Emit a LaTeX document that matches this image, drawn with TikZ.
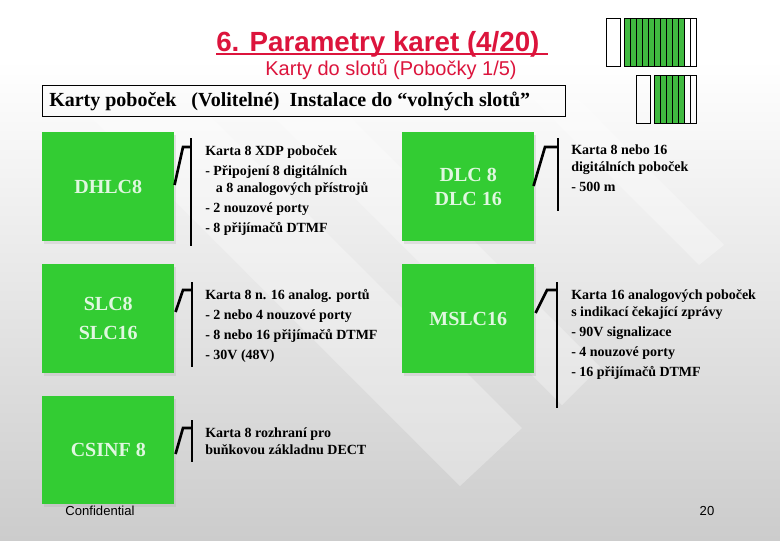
\documentclass[tikz,border=0pt]{standalone}
\usepackage{fontspec}
\setmainfont{Liberation Serif}
\setsansfont{Liberation Sans}
\usetikzlibrary{calc,shadows}
\tikzset{x=.75pt,y=-.75pt}
\definecolor{cardgreen}{RGB}{51,204,51}
\definecolor{slotgreen}{RGB}{64,186,64}
\definecolor{titlered}{RGB}{220,20,60}
\tikzset{
  card/.style={fill=cardgreen,text=white!85!cardgreen,minimum width=99pt,minimum height=81.75pt,
    inner sep=0pt,font=\fontsize{15}{21.5}\selectfont\bfseries,align=center,anchor=north west,
    drop shadow={shadow xshift=1.5pt,shadow yshift=-2pt,opacity=.25,fill=black!35}},
  info/.style={inner sep=0pt,anchor=north west,align=left,font=\fontsize{10.5}{15}\selectfont\bfseries},
  infotight/.style={info,font=\fontsize{10.5}{12.75}\selectfont\bfseries},
  band/.style={white,opacity=.3},
  bar/.style={line width=2pt},
  stub/.style={line width=2pt},
  slot/.style={draw=black,line width=.75pt}
}
\begin{document}
\begin{tikzpicture}
  \useasboundingbox (0,0) rectangle (780,540);
  % background
  \fill[white] (0,0) rectangle (780,60);
  \shade[top color=white,bottom color=black!20] (0,60) rectangle (780,540);
  \fill[band] (90,116) -- (460,486) -- (522,428) -- (210,116) -- cycle;
  \fill[band] (273,116) -- (562,405) -- (600,367) -- (349,116) -- cycle;
  \fill[band] (534,100) -- (699,265) -- (724,245) -- (579,100) -- cycle;
  % title
  \node[text=titlered,font=\sffamily\fontsize{20.8}{22}\selectfont\bfseries,inner sep=0pt,anchor=base west] (title) at (216,51) {6. Parametry karet (4/20)};
  \coordinate (titleend) at (548,54);
  \draw[titlered,line width=1.5pt] (title.base west |- titleend) -- (titleend);
  \node[text=titlered,font=\sffamily\fontsize{15}{16}\selectfont,inner sep=0pt] (subtitle) at (391,70) {Karty do slotů (Pobočky 1/5)};
  \node[draw=black,line width=.8pt,minimum width=392pt,minimum height=23.25pt,inner sep=0pt,anchor=north west] (head) at (42,85) {};
  \node[font=\fontsize{15}{16}\selectfont\bfseries,inner sep=0pt,anchor=west] (headtext) at (49,101) {Karty poboček\ \ \ (Volitelné)\ \ Instalace do “volných slotů”};
  % cards
  \node[card] (dhlc) at (42,132) {DHLC8};
  \node[card] (slc) at (42,264) {SLC8\\SLC16};
  \node[card,minimum height=81pt] (csinf) at (42,396) {CSINF 8};
  \node[card,font=\fontsize{15}{18}\selectfont\bfseries] (dlc) at (402,132) {DLC 8\\DLC 16};
  \node[card] (mslc) at (402,264) {MSLC16};
  % descriptions
  \node[info] (dhlctext) at (205,145) {Karta 8 XDP poboček\\- Připojení 8 digitálních\\[-2.2pt]\ \ \ a 8 analogových přístrojů\\- 2 nouzové porty\\- 8 přijímačů DTMF};
  \node[info] (slctext) at (205,289) {Karta 8 n. 16 analog. portů\\- 2 nebo 4 nouzové porty\\- 8 nebo 16 přijímačů DTMF\\- 30V (48V)};
  \node[infotight] (csinftext) at (205,427) {Karta 8 rozhraní pro\\buňkovou základnu DECT};
  \node[infotight] (dlctext) at (571,145) {Karta 8 nebo 16\\digitálních poboček\\[2pt]- 500 m};
  \node[info] (mslctext) at (571,289) {Karta 16 analogových poboček\\[-2.2pt]s indikací čekající zprávy\\- 90V signalizace\\- 4 nouzové porty\\- 16 přijímačů DTMF};
  % connectors
  \coordinate (dhlctop) at (191,138);
  \coordinate (dhlcbot) at (191,246);
  \draw[bar] (dhlctop) -- (dhlcbot);
  \draw[stub] ($(dhlc.north east)+(0,53)$) -- (183,147) -- (191,147);
  \coordinate (slctop) at (192,282);
  \coordinate (slcbot) at (192,367);
  \draw[bar] (slctop) -- (slcbot);
  \draw[stub] ($(slc.north east)+(1,48)$) -- (183,290) -- (192,290);
  \coordinate (csinftop) at (192,420);
  \coordinate (csinfbot) at (192,462);
  \draw[bar] (csinftop) -- (csinfbot);
  \draw[stub] ($(csinf.north east)+(1,58)$) -- (183,428) -- (192,428);
  \coordinate (dlctop) at (558,138);
  \coordinate (dlcbot) at (558,211);
  \draw[bar] (dlctop) -- (dlcbot);
  \draw[stub] ($(dlc.north east)+(-1,54)$) -- (545,147) -- (558,147);
  \coordinate (mslctop) at (557,282);
  \coordinate (mslcbot) at (557,408);
  \draw[bar] (mslctop) -- (mslcbot);
  \draw[stub] ($(mslc.north east)+(1,49)$) -- (547,290) -- (557,290);
  % slot pictograms
  \draw[slot] (606,18) rectangle (620,66);
  \fill[slotgreen] (624,18) rectangle (684,66);
  \foreach \x in {624,630,636,642,648,654,660,666,672,678,684,690}
    \draw[slot] (\x,18) rectangle (\x+6,66);
  \draw[slot] (636,75) rectangle (650,123);
  \fill[slotgreen] (654,75) rectangle (684,123);
  \foreach \x in {654,660,666,672,678,684,690}
    \draw[slot] (\x,75) rectangle (\x+6,123);
  % footer
  \node[font=\sffamily\fontsize{9.8}{11}\selectfont,inner sep=0pt] (confidential) at (100,511) {Confidential};
  \node[font=\sffamily\fontsize{9.8}{11}\selectfont,inner sep=0pt] (pagenum) at (707,511) {20};
\end{tikzpicture}
\end{document}
